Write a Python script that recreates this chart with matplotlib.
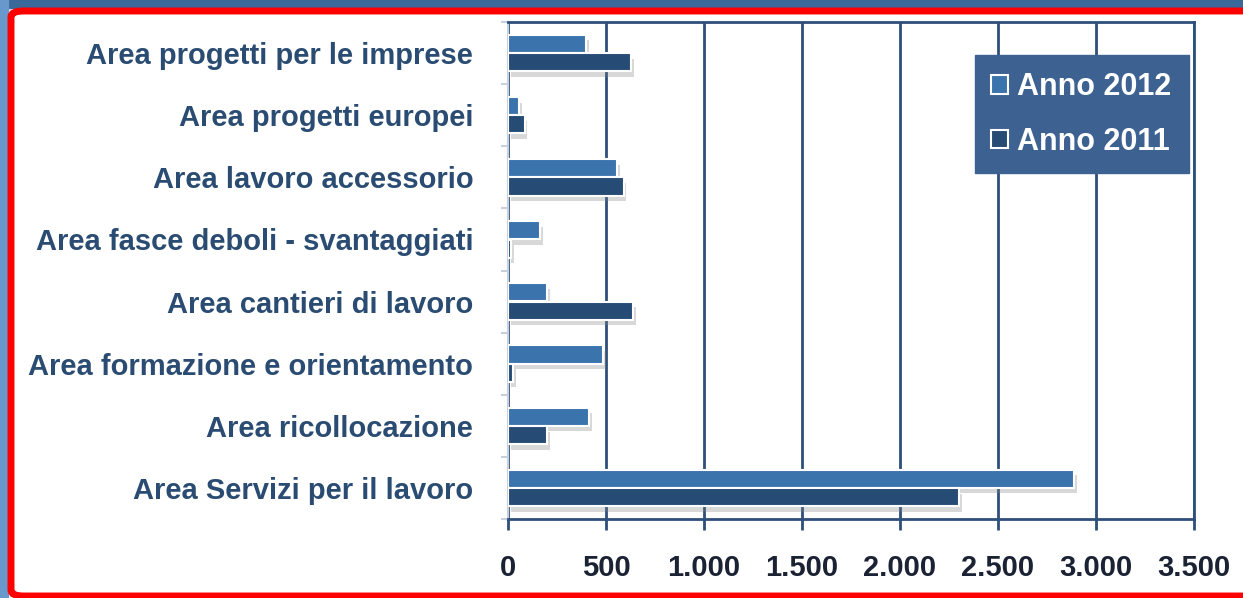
import matplotlib.pyplot as plt
import matplotlib.patheffects as pe
from matplotlib.patches import Rectangle, FancyBboxPatch
from matplotlib.ticker import FuncFormatter
import numpy as np

# Data
categories = ['Area progetti per le imprese', 'Area progetti europei', 'Area lavoro accessorio',
              'Area fasce deboli - svantaggiati', 'Area cantieri di lavoro',
              'Area formazione e orientamento', 'Area ricollocazione', 'Area Servizi per il lavoro']
anno_2012 = [400, 55, 555, 165, 200, 485, 415, 2890]
anno_2011 = [630, 85, 590, 15, 640, 25, 200, 2300]
xticks = [0, 500, 1000, 1500, 2000, 2500, 3000, 3500]

c2012 = '#3b73ad'
c2011 = '#264c75'
label_col = '#2b4c72'
grid_col = '#2e4f7a'

plt.rcParams['font.family'] = ['Liberation Sans', 'DejaVu Sans']

fig = plt.figure(figsize=(12.43, 5.98), dpi=100)
W, H = 1243, 598

# frame decoration: blue strips and red border
fig.patches.append(Rectangle((0, 1 - 8 / H), 1, 8 / H, transform=fig.transFigure,
                             color='#3a6898', zorder=0))
fig.patches.append(Rectangle((0, 0), 8 / W, 1, transform=fig.transFigure,
                             color='#6898cc', zorder=0))
fig.patches.append(FancyBboxPatch((11 / W, 2 / H), 1.2, 1 - 13 / H,
                                  boxstyle='round,pad=0,rounding_size=0.01',
                                  transform=fig.transFigure, facecolor='white',
                                  edgecolor='#ff0000', linewidth=5, zorder=1))

ax = fig.add_axes([508 / W, 1 - 519 / H, (1194 - 508) / W, (519 - 22) / H])
ax.set_zorder(3)

y = np.arange(len(categories))
h = 0.29
shadow = [pe.SimplePatchShadow(offset=(2, -4), shadow_rgbFace='#808080', alpha=0.3), pe.Normal()]
b1 = ax.barh(y - 0.148, anno_2012, height=h, color=c2012, edgecolor='white', linewidth=1.5,
             label='Anno 2012', zorder=3)
b2 = ax.barh(y + 0.148, anno_2011, height=h, color=c2011, edgecolor='white', linewidth=1.5,
             label='Anno 2011', zorder=3)
for b in list(b1) + list(b2):
    b.set_path_effects(shadow)

ax.set_ylim(7.5, -0.5)
ax.set_xlim(0, 3500)
ax.set_xticks(xticks)
ax.xaxis.set_major_formatter(FuncFormatter(lambda v, p: f'{int(v):,}'.replace(',', '.')))
ax.grid(axis='x', color=grid_col, linewidth=2, zorder=1)
ax.set_axisbelow(True)

ax.set_yticks(y)
ax.set_yticklabels(categories, fontsize=21, fontweight='bold', color=label_col)
ax.tick_params(axis='y', length=0, pad=25)
ax.set_yticks(np.arange(-0.5, 8, 1), minor=True)
ax.tick_params(axis='y', which='minor', length=5, color='#c8d0dc', width=1.5)
ax.tick_params(axis='x', length=8, width=2, color=grid_col, pad=17)
for t in ax.get_xticklabels():
    t.set_fontweight('bold')
    t.set_color('#1a2233')
    t.set_fontsize(21)

for s in ['top', 'right', 'bottom']:
    ax.spines[s].set_color(grid_col)
    ax.spines[s].set_linewidth(2)
ax.spines['left'].set_color('#c8d0dc')
ax.spines['left'].set_linewidth(1.5)

leg = ax.legend(loc='upper right', bbox_to_anchor=(0.992, 0.933),
                prop={'weight': 'bold', 'size': 22}, frameon=True, fancybox=False,
                handlelength=0.55, handleheight=0.55, handletextpad=0.3,
                labelspacing=0.8, borderpad=0.55, borderaxespad=0)
leg.get_frame().set_facecolor('#3d6191')
leg.get_frame().set_edgecolor('#3d6191')
leg.get_frame().set_alpha(1)
for t in leg.get_texts():
    t.set_color('white')
for hnd in leg.legend_handles:
    hnd.set_path_effects([])
    hnd.set_edgecolor('white')

fig.savefig('out.png', dpi=100)
